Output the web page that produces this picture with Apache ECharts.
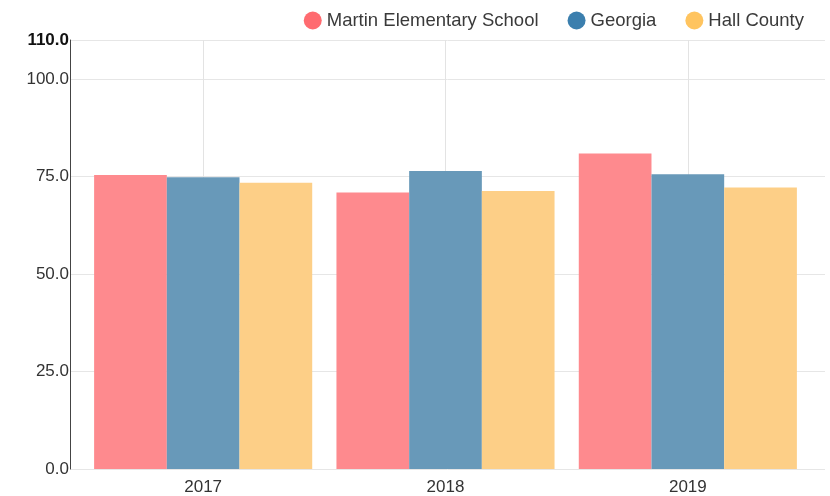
<!DOCTYPE html>
<html><head><meta charset="utf-8">
<script src="https://cdn.jsdelivr.net/npm/echarts@6/dist/echarts.min.js"></script>
<style>html,body{margin:0;padding:0;background:#fff}#c{width:830px;height:496px}</style>
</head><body><div id="c"></div>
<script>
const categories = ['2017', '2018', '2019'];
const seriesNames = ['Martin Elementary School', 'Georgia', 'Hall County'];
const martin = [75.4, 70.9, 80.9];
const georgia = [74.8, 76.4, 75.6];
const hall = [73.4, 71.3, 72.2];
const barColors = ['#fe8a8e', '#6899b9', '#fdcf87'];
const legendColors = ['#ff6b70', '#3b7fae', '#ffc45f'];
const yMin = 0, yMax = 110, yInterval = 25;

const chart = echarts.init(document.getElementById('c'), null, {renderer: 'canvas'});
const fmt = v => v === yMax ? '{b|' + v.toFixed(1) + '}' : v.toFixed(1);
const values = [martin, georgia, hall];
const FONT = 'Liberation Sans, Arial, sans-serif';
chart.setOption({
  animation: false,
  textStyle: {fontFamily: FONT},
  legend: {
    top: 6, right: 21, icon: 'circle', itemWidth: 18, itemHeight: 18, itemGap: 29,
    textStyle: {fontSize: 18.5, color: '#3a3a3a', fontFamily: FONT},
    data: seriesNames.map((n, i) => ({name: n, itemStyle: {color: legendColors[i]}}))
  },
  grid: [
    {left: 70, right: 5, top: 40, bottom: 27, containLabel: false},
    {left: 82, right: 21, top: 40, bottom: 27, containLabel: false}
  ],
  xAxis: [
    {gridIndex: 0, type: 'value', min: 0, max: 1, show: false},
    {gridIndex: 1, type: 'category', data: categories,
     axisLine: {show: false}, axisTick: {show: false},
     axisLabel: {fontSize: 17, color: '#333', margin: 10, fontFamily: FONT},
     splitLine: {show: true, alignWithLabel: true, lineStyle: {color: '#e3e3e3', width: 1}}}
  ],
  yAxis: [
    {gridIndex: 0, type: 'value', min: yMin, max: yMax, interval: yInterval,
     axisLine: {show: true, lineStyle: {color: '#444', width: 1}},
     axisTick: {show: false},
     axisLabel: {fontSize: 17, color: '#333', margin: 1, formatter: fmt, fontFamily: FONT,
       rich: {b: {fontWeight: 'bold', fontSize: 17, color: '#111', fontFamily: FONT}}},
     splitLine: {show: true, lineStyle: {color: '#e6e6e6', width: 1}}},
    {gridIndex: 1, type: 'value', min: yMin, max: yMax, interval: yInterval, show: false,
     splitLine: {show: false}}
  ],
  series: values.map((d, i) => ({
    name: seriesNames[i], type: 'bar', xAxisIndex: 1, yAxisIndex: 1,
    data: d, barGap: '0%', barCategoryGap: '10%',
    itemStyle: {color: barColors[i]}
  }))
});
</script></body></html>
